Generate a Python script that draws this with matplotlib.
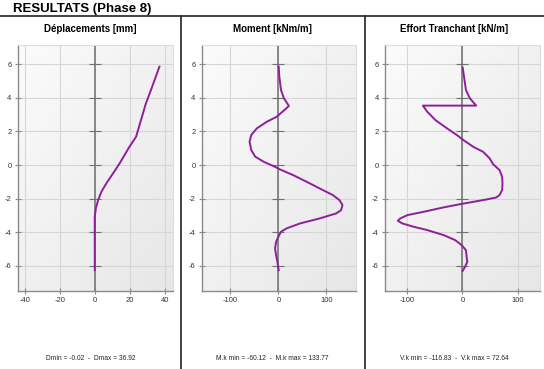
import numpy as np
import matplotlib
matplotlib.use("Agg")
import matplotlib.pyplot as plt
from matplotlib.lines import Line2D

plt.rcParams['font.family'] = ['Liberation Sans', 'DejaVu Sans']
plt.rcParams['axes.unicode_minus'] = False

# depth levels (m) and values
depl_y = [5.86, 4.47, 3.67, 2.68, 1.69, 1.09, 0.10, -0.50, -1.09, -1.59, -2.09, -2.58, -3.08, -4.0, -5.0, -6.26]
depl_x = [36.92, 32.1, 29.2, 26.4, 23.6, 19.8, 14.2, 10.4, 6.6, 3.8, 1.9, 0.6, 0.0, -0.02, 0.0, 0.0]

mom_y = [5.86, 5.26, 4.47, 3.97, 3.52, 3.22, 2.88, 2.58, 2.19, 1.79, 1.39, 0.89, 0.50, 0.20, -0.06, -0.26,
         -0.60, -0.99, -1.39, -1.79, -2.09, -2.38, -2.68, -2.88, -3.18, -3.48, -3.77, -3.97, -4.27,
         -4.57, -4.97, -5.36, -5.76, -6.26]
mom_x = [0.7, 2.0, 5.5, 11.7, 22.0, 10.3, -3.4, -24.0, -44.8, -56.6, -60.12, -56.6, -48.3, -31.0, -10.3, 3.4,
         31.0, 58.6, 86.0, 113.8, 127.6, 133.77, 131.0, 120.7, 86.0, 44.8, 17.2, 5.5, 0.0,
         -4.8, -6.9, -4.8, -2.0, 0.7]

eff_y = [5.80, 5.26, 4.47, 3.97, 3.54, 3.54, 3.18, 2.68, 2.19, 1.79, 1.49, 1.09, 0.79, 0.40, 0.06, -0.30,
         -0.70, -1.09, -1.49, -1.79, -1.93, -2.05, -2.19, -2.33, -2.52, -2.78, -2.98, -3.18, -3.32,
         -3.48, -3.68, -3.87, -4.17, -4.47, -4.77, -5.07, -5.46, -5.76, -6.06, -6.30]
eff_x = [0.6, 3.0, 6.5, 13.7, 25.0, -71.4, -63.7, -48.8, -28.0, -10.0, 1.8, 19.6, 37.5, 49.4, 55.4, 67.3,
         72.0, 72.64, 72.0, 67.3, 61.3, 43.5, 19.6, -4.2, -34.0, -69.6, -99.4, -112.5, -116.83,
         -108.3, -87.5, -63.7, -34.0, -13.0, -1.2, 6.5, 7.7, 8.9, 4.8, 0.6]

titles = ['Déplacements [mm]', 'Moment [kNm/m]', 'Effort Tranchant [kN/m]']
footers = ['Dmin = -0.02  -  Dmax = 36.92',
           'M.k min = -60.12  -  M.k max = 133.77',
           'V.k min = -116.83  -  V.k max = 72.64']
xticks = [[-40, -20, 0, 20, 40], [-100, 0, 100], [-100, 0, 100]]
xlims = [(-44, 44.5), (-160, 162), (-140, 140.5)]
yticks = [-6, -4, -2, 0, 2, 4, 6]

W, H = 544, 369
fig = plt.figure(figsize=(W / 100, H / 100), dpi=100)

# header and separators
fig.text(13 / W, 1 - 9 / H, 'RESULTATS (Phase 8)', fontsize=9.5, fontweight='bold', va='center', ha='left')
fig.add_artist(Line2D([0, 1], [1 - 16 / H, 1 - 16 / H], color='#222222', lw=1.2))
for xd in [180.5, 364.5]:
    fig.add_artist(Line2D([xd / W, xd / W], [0, 1 - 16 / H], color='#222222', lw=1.2))

panels = [(17.7, 172.7), (201.7, 356), (385, 540)]
regions = [(0, 180.5), (180.5, 364.5), (364.5, 544)]
top, bottom = 45, 291

# light diagonal gradient for the plot area (white top-left -> light gray bottom-right)
g = np.add.outer(np.linspace(0, 1, 60), np.linspace(0, 1, 60)) / 2
shade = 0.985 - 0.08 * g
bg = np.dstack([shade, shade, shade])
data = [(depl_x, depl_y), (mom_x, mom_y), (eff_x, eff_y)]

for i in range(3):
    x0, x1 = panels[i]
    ax = fig.add_axes([x0 / W, 1 - bottom / H, (x1 - x0) / W, (bottom - top) / H])
    ax.imshow(bg, extent=[0, 1, 0, 1], transform=ax.transAxes, aspect='auto',
              zorder=0, origin='upper')
    ax.set_xlim(*xlims[i])
    ax.set_ylim(-7.5, 7.15)
    ax.set_xticks(xticks[i])
    ax.set_yticks(yticks)
    ax.grid(True, color='#d6d6d6', lw=0.8, zorder=1)
    ax.axvline(0, color='#808080', lw=1.3, zorder=2)
    ax.plot([0] * len(yticks), yticks, ls='none', marker='_', ms=8, mew=0.8, color='#707070', zorder=2)
    x, y = data[i]
    ax.plot(x, y, color='#8e1f9a', lw=1.4, zorder=3, solid_joinstyle='round')
    for s in ['left', 'bottom']:
        ax.spines[s].set_color('#8a8a8a')
        ax.spines[s].set_linewidth(1.0)
    for s in ['top', 'right']:
        ax.spines[s].set_color('#dddddd')
    ax.tick_params(direction='inout', length=5, width=0.8, color='#8a8a8a',
                   labelsize=5.5, labelcolor='#333333', pad=2)
    r0, r1 = regions[i]
    cx = (r0 + r1) / 2 / W
    fig.text(cx, 1 - 29 / H, titles[i], fontsize=7, fontweight='bold', ha='center', va='center')
    fig.text(cx, 1 - 358 / H, footers[i], fontsize=4.8, ha='center', va='center', color='#222222')

fig.savefig('out.png', dpi=100)
